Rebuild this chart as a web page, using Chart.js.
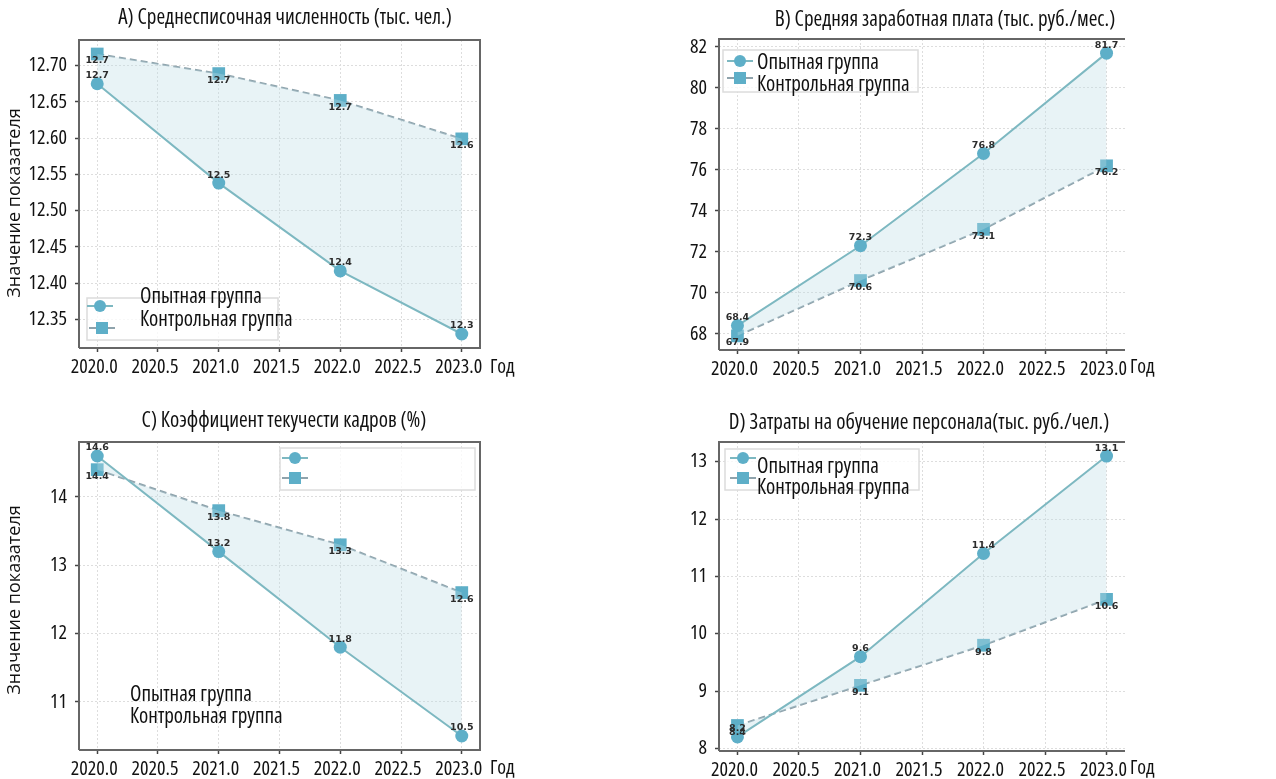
<!DOCTYPE html>
<html>
<head>
<meta charset="utf-8">
<script src="https://cdn.jsdelivr.net/npm/chart.js@4.4.1/dist/chart.umd.min.js"></script>
<style>
  html, body { margin: 0; padding: 0; background: #ffffff; }
  #wrap { position: relative; width: 1276px; height: 779px; overflow: hidden; background: #ffffff; }
  #wrap canvas { position: absolute; }
</style>
</head>
<body>
<div id="wrap">
  <canvas id="panelA" width="640" height="390" style="left:0px;top:0px"></canvas>
  <canvas id="panelB" width="636" height="390" style="left:640px;top:0px"></canvas>
  <canvas id="panelC" width="640" height="389" style="left:0px;top:390px"></canvas>
  <canvas id="panelD" width="636" height="389" style="left:640px;top:390px"></canvas>
</div>
<script>
// ---- data ----
const years = [2020, 2021, 2022, 2023];
const yearTicks = [2020, 2020.5, 2021, 2021.5, 2022, 2022.5, 2023];

const seriesNames = ['Опытная группа', 'Контрольная группа'];
const yAxisTitle = 'Значение показателя';
const xAxisTitle = 'Год';

// A) headcount, thousand people
const headcountExp  = [12.675, 12.538, 12.417, 12.330];
const headcountCtrl = [12.716, 12.689, 12.652, 12.599];
const headcountTicks = [12.35, 12.40, 12.45, 12.50, 12.55, 12.60, 12.65, 12.70];

// B) average wage, thousand rub / month
const wageExp  = [68.4, 72.3, 76.8, 81.7];
const wageCtrl = [67.9, 70.6, 73.1, 76.2];
const wageTicks = [68, 70, 72, 74, 76, 78, 80, 82];

// C) staff turnover, %
const turnoverExp  = [14.6, 13.2, 11.8, 10.5];
const turnoverCtrl = [14.4, 13.8, 13.3, 12.6];
const turnoverTicks = [11, 12, 13, 14];

// D) training costs, thousand rub / person
const trainingExp  = [8.2, 9.6, 11.4, 13.1];
const trainingCtrl = [8.4, 9.1, 9.8, 10.6];
const trainingTicks = [8, 9, 10, 11, 12, 13];

// ---- styling ----
const FAMILY = "'Open Sans', sans-serif";
const CSS_FONT = size => `condensed ${size}px ${FAMILY}`;
const MARKER = '#5eafc8';
const LINE_EXP = '#7db8c1';
const LINE_CTRL = '#8fa3ac';
const FILL = 'rgba(190, 220, 230, 0.35)';
const FRAME = '#666666';
const GRID = '#dddddd';

function paddedRange(values, frac) {
  const lo = Math.min(...values), hi = Math.max(...values);
  const m = (hi - lo) * frac;
  return [lo - m, hi + m];
}

// decorations: frame, value labels, titles and the legend boxes
const decor = {
  id: 'decor',
  afterDatasetsDraw(chart, args, o) {
    const ctx = chart.ctx;
    ctx.save();
    ctx.font = "bold 9.5px 'DejaVu Sans', sans-serif";
    ctx.fillStyle = '#2c2c2c';
    ctx.textAlign = 'center';
    ctx.textBaseline = 'middle';
    chart.data.datasets.forEach((ds, di) => {
      const meta = chart.getDatasetMeta(di);
      const dy = di === 0 ? -8 : 7;
      meta.data.forEach((pt, i) => {
        ctx.fillText(ds.data[i].y.toFixed(1), pt.x, pt.y + dy);
      });
    });
    ctx.restore();
  },
  afterDraw(chart, args, o) {
    const ctx = chart.ctx;
    const a = chart.chartArea;
    ctx.save();
    // frame
    ctx.strokeStyle = FRAME;
    ctx.lineWidth = 2;
    ctx.beginPath();
    ctx.moveTo(a.left, a.bottom); ctx.lineTo(a.left, a.top); ctx.lineTo(a.right, a.top);
    if (o.rightBorder) { ctx.lineTo(a.right, a.bottom); } else { ctx.moveTo(a.right, a.bottom); }
    ctx.lineTo(a.left, a.bottom);
    ctx.stroke();

    // title
    ctx.fillStyle = '#111';
    ctx.font = CSS_FONT(21);
    ctx.textAlign = 'center';
    ctx.textBaseline = 'middle';
    ctx.fillText(o.title, o.titlePos[0], o.titlePos[1]);

    // x axis name
    ctx.font = CSS_FONT(20);
    ctx.textAlign = 'left';
    ctx.fillText(xAxisTitle, o.godPos[0], o.godPos[1]);

    // y axis name
    if (o.yTitlePos) {
      ctx.save();
      ctx.font = `18px ${FAMILY}`;
      ctx.translate(o.yTitlePos[0], o.yTitlePos[1]);
      ctx.rotate(-Math.PI / 2);
      ctx.textAlign = 'center';
      ctx.fillText(yAxisTitle, 0, 0);
      ctx.restore();
    }

    // legend
    const lg = o.legend;
    ctx.strokeStyle = '#dcdcdc';
    ctx.lineWidth = 1.5;
    ctx.fillStyle = 'rgba(255,255,255,0.8)';
    const b = lg.box;
    ctx.fillRect(b[0], b[1], b[2] - b[0], b[3] - b[1]);
    ctx.strokeRect(b[0], b[1], b[2] - b[0], b[3] - b[1]);
    lg.handles.forEach((h, i) => {
      ctx.strokeStyle = i === 0 ? LINE_EXP : LINE_CTRL;
      ctx.lineWidth = 2;
      ctx.beginPath(); ctx.moveTo(h[0] - 13, h[1]); ctx.lineTo(h[0] + 13, h[1]); ctx.stroke();
      ctx.fillStyle = MARKER;
      if (i === 0) {
        ctx.beginPath(); ctx.arc(h[0], h[1], 6, 0, Math.PI * 2); ctx.fill();
      } else {
        ctx.fillRect(h[0] - 6, h[1] - 6, 12, 12);
      }
    });
    ctx.fillStyle = '#111';
    ctx.font = CSS_FONT(21);
    ctx.textAlign = 'left';
    ctx.textBaseline = 'middle';
    lg.text.forEach((t, i) => ctx.fillText(seriesNames[i], t[0], t[1]));
    ctx.restore();
  }
};

function makePanel(id, exp, ctrl, ticks, decimals, box, deco) {
  const canvas = document.getElementById(id);
  const W = canvas.width, H = canvas.height;
  const [yMin, yMax] = paddedRange(exp.concat(ctrl), 0.05);
  const [xMin, xMax] = paddedRange(years, 0.05);
  const pts = arr => arr.map((v, i) => ({ x: years[i], y: v }));
  // the width keyword goes into the weight slot of Chart.js's font string
  const tickFont = { family: FAMILY, size: 20, weight: 'condensed' };
  return new Chart(canvas, {
    type: 'line',
    data: {
      datasets: [
        {
          label: seriesNames[0], data: pts(exp),
          borderColor: LINE_EXP, borderWidth: 2,
          pointStyle: 'circle', pointRadius: 6.5, pointBackgroundColor: MARKER, pointBorderColor: MARKER, pointBorderWidth: 0,
          fill: '+1', backgroundColor: FILL, tension: 0
        },
        {
          label: seriesNames[1], data: pts(ctrl),
          borderColor: LINE_CTRL, borderWidth: 2, borderDash: [7, 4],
          pointStyle: 'rect', pointRadius: 9, pointBackgroundColor: MARKER, pointBorderColor: MARKER, pointBorderWidth: 0,
          fill: false, tension: 0
        }
      ]
    },
    options: {
      responsive: false,
      animation: false,
      devicePixelRatio: 1,
      parsing: false,
      layout: { padding: { left: 0, top: box.t, right: W - box.r, bottom: 0 } },
      plugins: {
        legend: { display: false },
        title: { display: false },
        tooltip: { enabled: false },
        decor: deco
      },
      scales: {
        x: {
          type: 'linear', min: xMin, max: xMax,
          afterBuildTicks: s => { s.ticks = yearTicks.map(v => ({ value: v })); },
          afterFit: s => { s.height = H - box.b; },
          ticks: { color: '#111', font: tickFont, padding: 3, maxRotation: 0, autoSkip: false, labelOffset: -3,
                   callback: v => Number(v).toFixed(1) },
          grid: { color: GRID, lineWidth: 1, tickColor: '#444', tickLength: 4, tickWidth: 1.5 },
          border: { display: false, dash: [2, 2] }
        },
        y: {
          type: 'linear', min: yMin, max: yMax,
          afterBuildTicks: s => { s.ticks = ticks.map(v => ({ value: v })); },
          afterFit: s => { s.width = box.l; },
          ticks: { color: '#111', font: tickFont, padding: 8, autoSkip: false,
                   callback: v => Number(v).toFixed(decimals) },
          grid: { color: GRID, lineWidth: 1, tickColor: '#444', tickLength: 4, tickWidth: 1.5 },
          border: { display: false, dash: [2, 2] }
        }
      }
    },
    plugins: [decor]
  });
}

makePanel('panelA', headcountExp, headcountCtrl, headcountTicks, 2,
  { l: 79, r: 480, t: 40, b: 348 },
  { title: 'A) Среднесписочная численность (тыс. чел.)', titlePos: [285, 18], godPos: [490, 367],
    yTitlePos: [15, 203], rightBorder: true,
    legend: { box: [87, 298, 278, 340], handles: [[100, 306], [102, 328]], text: [[140, 297], [140, 320]] } });

makePanel('panelB', wageExp, wageCtrl, wageTicks, 0,
  { l: 79, r: 485, t: 39, b: 350 },
  { title: 'B) Средняя заработная плата (тыс. руб./мес.)', titlePos: [305, 20], godPos: [490, 367],
    yTitlePos: null, rightBorder: false,
    legend: { box: [83, 50, 278, 92], handles: [[100, 61], [100, 78]], text: [[117, 63], [117, 85]] } });

makePanel('panelC', turnoverExp, turnoverCtrl, turnoverTicks, 0,
  { l: 79, r: 480, t: 52, b: 360 },
  { title: 'C) Коэффициент текучести кадров (%)', titlePos: [284, 31], godPos: [490, 378],
    yTitlePos: [15, 210], rightBorder: true,
    legend: { box: [280, 58, 475, 100], handles: [[295, 68], [295, 88]], text: [[130, 305], [130, 327]] } });

makePanel('panelD', trainingExp, trainingCtrl, trainingTicks, 0,
  { l: 79, r: 485, t: 52, b: 361 },
  { title: 'D) Затраты на обучение персонала(тыс. руб./чел.)', titlePos: [279, 33], godPos: [490, 378],
    yTitlePos: null, rightBorder: false,
    legend: { box: [85, 59, 279, 100], handles: [[103, 68], [103, 88]], text: [[117, 77], [117, 98]] } });
</script>
</body>
</html>
